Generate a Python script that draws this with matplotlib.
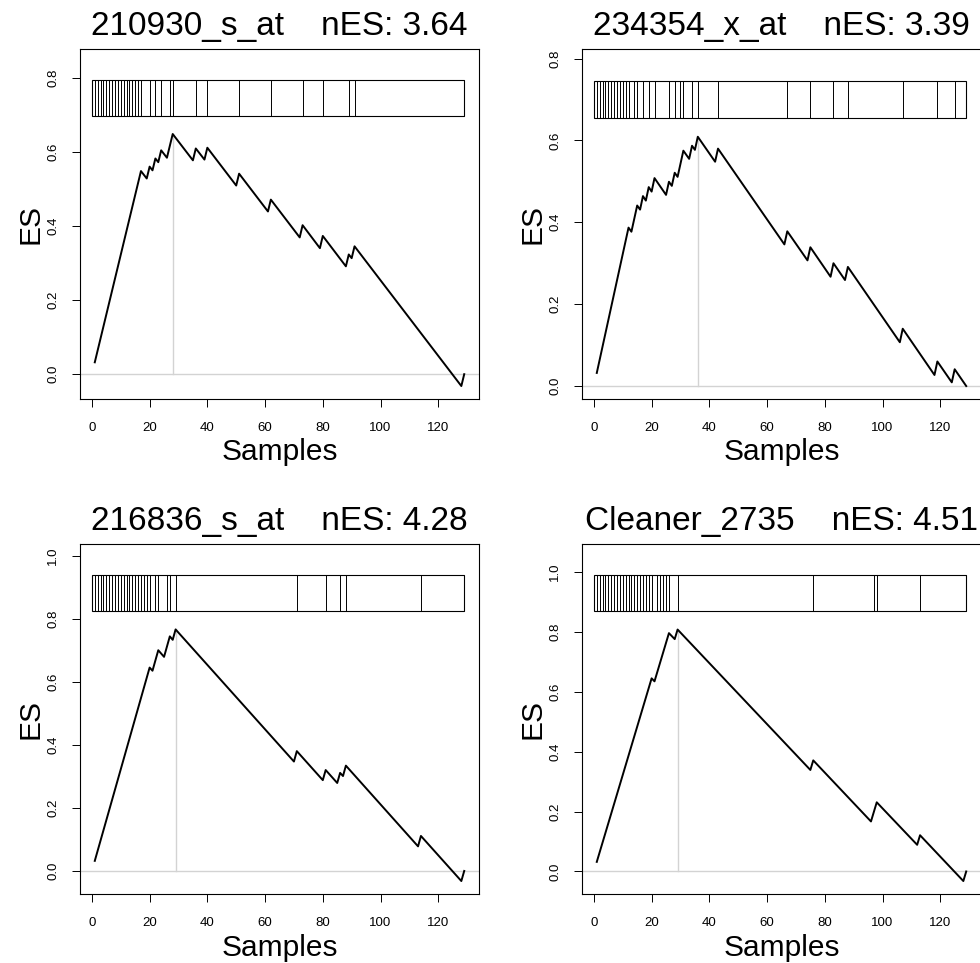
import numpy as np
import matplotlib
matplotlib.use("Agg")
import matplotlib.pyplot as plt
from matplotlib.patches import Rectangle

plt.rcParams['font.family'] = ['Liberation Sans', 'DejaVu Sans']

n_samples = 129

probe_names = ["210930_s_at", "234354_x_at", "216836_s_at", "Cleaner_2735"]
nes_values = [3.64, 3.39, 4.28, 4.51]

# sample positions of the gene-set hits (barcode lines)
hits_210930 = [1, 2, 3, 4, 5, 6, 7, 8, 9, 10, 11, 12, 13, 14, 15, 16, 17,
               20, 22, 24, 27, 28, 36, 40, 51, 62, 73, 80, 89, 91, 129]
hits_234354 = [1, 2, 3, 4, 5, 6, 7, 8, 9, 10, 11, 12,
               14, 15, 17, 19, 21, 26, 28, 30, 31, 34, 36, 43,
               67, 75, 83, 88, 107, 119, 125]
hits_216836 = [1, 2, 3, 4, 5, 6, 7, 8, 9, 10, 11, 12, 13, 14, 15, 16, 17, 18, 19, 20,
               22, 23, 26, 27, 29, 71, 81, 86, 88, 114, 129]
hits_cleaner = [1, 2, 3, 4, 5, 6, 7, 8, 9, 10, 11, 12, 13, 14, 15, 16, 17, 18, 19, 20,
                22, 23, 24, 25, 26, 29, 76, 97, 98, 113, 129]

# running enrichment score, corner points of the curve
es_x_210930 = [1, 17, 19, 20, 21, 22, 23, 24, 26, 28, 35, 36, 39, 40, 50, 51, 61, 62,
               72, 73, 79, 80, 88, 89, 90, 91, 128, 129]
es_y_210930 = [0.032, 0.548, 0.528, 0.560, 0.550, 0.582, 0.572, 0.604, 0.584, 0.648,
               0.577, 0.609, 0.579, 0.611, 0.509, 0.541, 0.439, 0.471, 0.369, 0.402,
               0.340, 0.373, 0.291, 0.323, 0.313, 0.345, -0.032, 0.000]

es_x_234354 = [1, 12, 13, 15, 16, 17, 18, 19, 20, 21, 25, 26, 27, 28, 29, 31, 33, 34,
               35, 36, 42, 43, 66, 67, 74, 75, 82, 83, 87, 88, 106, 107, 118, 119,
               124, 125, 129]
es_y_234354 = [0.032, 0.387, 0.377, 0.441, 0.431, 0.464, 0.453, 0.486, 0.475, 0.508,
               0.467, 0.499, 0.489, 0.521, 0.511, 0.575, 0.555, 0.587, 0.577, 0.609,
               0.548, 0.580, 0.346, 0.378, 0.307, 0.339, 0.267, 0.300, 0.259, 0.291,
               0.107, 0.140, 0.027, 0.060, 0.009, 0.041, 0.000]

es_x_216836 = [1, 20, 21, 23, 25, 27, 28, 29, 70, 71, 80, 81, 85, 86, 87, 88,
               113, 114, 128, 129]
es_y_216836 = [0.032, 0.645, 0.635, 0.700, 0.679, 0.744, 0.733, 0.766, 0.347, 0.380,
               0.288, 0.320, 0.279, 0.311, 0.301, 0.334, 0.078, 0.111, -0.032, 0.000]

es_x_cleaner = [1, 20, 21, 26, 28, 29, 75, 76, 96, 98, 112, 113, 128, 129]
es_y_cleaner = [0.032, 0.645, 0.635, 0.796, 0.776, 0.808, 0.339, 0.371, 0.167, 0.231,
                0.089, 0.121, -0.032, 0.000]

panels = [
    (hits_210930, es_x_210930, es_y_210930),
    (hits_234354, es_x_234354, es_y_234354),
    (hits_216836, es_x_216836, es_y_216836),
    (hits_cleaner, es_x_cleaner, es_y_cleaner),
]

W, H = 980, 963
fig = plt.figure(figsize=(W / 100, H / 100), dpi=100)

# axes boxes in pixels: left, top, width, height
boxes = [(80, 49, 399, 350), (582, 49, 399, 350),
         (80, 544, 399, 350), (582, 544, 399, 350)]

grey = '#d3d3d3'

for k, (hits, es_x, es_y) in enumerate(panels):
    l, t, w, h = boxes[k]
    ax = fig.add_axes([l / W, 1 - (t + h) / H, w / W, h / H])

    es_max = max(es_y)
    i_peak = int(np.argmax(es_y))
    top = 1.3 * es_max
    lo = min(es_y)
    span = top - lo
    ax.set_ylim(lo - 0.04 * span, top + 0.04 * span)
    xspan = n_samples - 1
    ax.set_xlim(1 - 0.04 * xspan, n_samples + 0.04 * xspan)

    ax.axhline(0, color=grey, lw=1.0, zorder=1)
    ax.plot([es_x[i_peak], es_x[i_peak]], [0, es_max], color=grey, lw=1.0, zorder=1)
    ax.plot(es_x, es_y, color='black', lw=1.4, zorder=3)

    # barcode
    y0 = 1.075 * es_max
    y1 = 1.225 * es_max
    ax.add_patch(Rectangle((0, y0), n_samples, y1 - y0, fill=False,
                           ec='black', lw=0.8, zorder=2))
    ax.vlines(hits, y0, y1, color='black', lw=0.7, zorder=2)

    ax.set_xticks([0, 20, 40, 60, 80, 100, 120])
    yt = [v for v in np.arange(0, 1.01, 0.2) if v <= ax.get_ylim()[1]]
    ax.set_yticks(yt)
    ax.set_yticklabels(["%.1f" % v for v in yt], rotation=90, va='center')

    ax.tick_params(direction='out', length=5.8, width=0.7, labelsize=9.5,
                   colors='black')
    ax.tick_params(axis='x', pad=11)
    ax.tick_params(axis='y', pad=9)
    for sp in ax.spines.values():
        sp.set_linewidth(0.8)

    ax.set_title("%s    nES: %.2f" % (probe_names[k], nes_values[k]),
                 fontsize=24, pad=10)
    ax.set_xlabel("Samples", fontsize=21.5, labelpad=3)
    ax.set_ylabel("ES", fontsize=21.5, labelpad=2)

fig.savefig("out.png", dpi=100)
